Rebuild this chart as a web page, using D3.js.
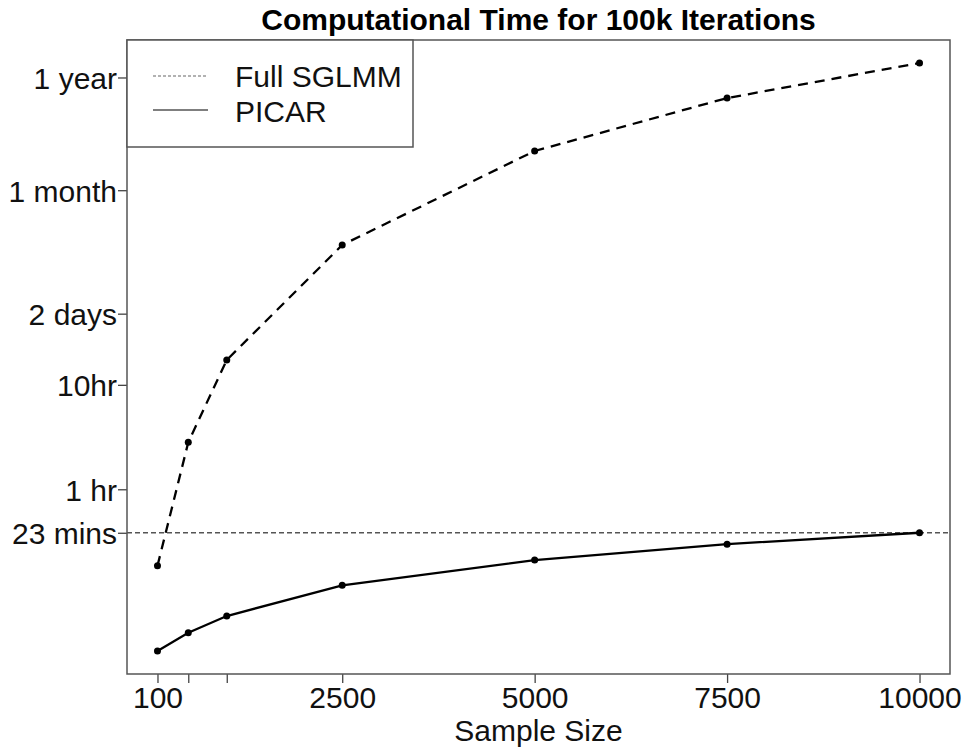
<!DOCTYPE html>
<html><head><meta charset="utf-8">
<script src="https://cdn.jsdelivr.net/npm/d3@7"></script>
<style>body{margin:0;background:#fff;} text{font-family:"Liberation Sans",Arial,Helvetica,sans-serif;}</style>
</head><body><svg id="c" width="965" height="749"></svg>
<script>
// Data (time in minutes)
const sampleSizes = [100, 500, 1000, 2500, 5000, 7500, 10000];
const fullSGLMM = [11.1, 169, 1037, 13090, 104000, 334000, 723000];
const picar = [1.70, 2.54, 3.67, 7.22, 12.6, 17.9, 23];
const xTickValues = [100, 500, 1000, 2500, 5000, 7500, 10000];
const xTickLabels = ["100", "", "", "2500", "5000", "7500", "10000"];
const yTickValues = [525600, 43800, 2880, 600, 60, 23];
const yTickLabels = ["1 year", "1 month", "2 days", "10hr", "1 hr", "23 mins"];
const refLineValue = 23;
const seriesNames = ["Full SGLMM", "PICAR"];
const title = "Computational Time for 100k Iterations";
const xLabel = "Sample Size";

const svg = d3.select("#c");
const L = 127, R = 950, T = 40, B = 674;
const x = d3.scaleLinear().domain([-296, 10396]).range([L, R]);
const y = d3.scaleLog().domain([Math.pow(10, 0.0096), Math.pow(10, 6.0795)]).range([B, T]);

// reference line
svg.append("line").attr("x1", L).attr("x2", R).attr("y1", y(refLineValue)).attr("y2", y(refLineValue))
  .attr("stroke", "#555").attr("stroke-width", 1.3).attr("stroke-dasharray", "5,3");

// axes
const xAxis = d3.axisBottom(x).tickValues(xTickValues).tickFormat((d, i) => xTickLabels[i]).tickSize(9).tickPadding(4);
const gx = svg.append("g").attr("transform", `translate(0,${B})`).call(xAxis);
gx.select(".domain").remove();
gx.selectAll(".tick line").attr("stroke", "#444").attr("stroke-width", 1.3);
gx.selectAll(".tick text").attr("font-size", 30).attr("fill", "#111").attr("dy", "0.71em");

const yAxis = d3.axisLeft(y).tickValues(yTickValues).tickFormat((d, i) => yTickLabels[i]).tickSize(9).tickPadding(1);
const gy = svg.append("g").attr("transform", `translate(${L},0)`).call(yAxis);
gy.select(".domain").remove();
gy.selectAll(".tick line").attr("stroke", "#444").attr("stroke-width", 1.3);
gy.selectAll(".tick text").attr("font-size", 30).attr("fill", "#111").attr("dy", "0.36em");

// box
svg.append("rect").attr("x", L).attr("y", T).attr("width", R - L).attr("height", B - T)
  .attr("fill", "none").attr("stroke", "#555").attr("stroke-width", 1.5);

// series
const line = d3.line().x((d, i) => x(sampleSizes[i])).y(d => y(d));
function drawSeries(vals, dash) {
  svg.append("path").datum(vals).attr("d", line).attr("fill", "none")
    .attr("stroke", "#000").attr("stroke-width", 2.3).attr("stroke-dasharray", dash);
  svg.append("g").selectAll("circle").data(vals).join("circle")
    .attr("cx", (d, i) => x(sampleSizes[i])).attr("cy", d => y(d)).attr("r", 3.5).attr("fill", "#000");
}
drawSeries(fullSGLMM, "10,7");
drawSeries(picar, null);

// legend
const lg = svg.append("g");
lg.append("rect").attr("x", L).attr("y", T).attr("width", 286).attr("height", 107)
  .attr("fill", "#fff").attr("stroke", "#555").attr("stroke-width", 1.5);
lg.append("line").attr("x1", 153).attr("x2", 208).attr("y1", 76).attr("y2", 76)
  .attr("stroke", "#666").attr("stroke-width", 1.2).attr("stroke-dasharray", "3,2");
lg.append("line").attr("x1", 153).attr("x2", 208).attr("y1", 110).attr("y2", 110)
  .attr("stroke", "#555").attr("stroke-width", 1.3);
lg.append("text").attr("x", 235).attr("y", 87).attr("font-size", 30).attr("fill", "#111").text(seriesNames[0]);
lg.append("text").attr("x", 235).attr("y", 122).attr("font-size", 30).attr("fill", "#111").text(seriesNames[1]);

// title and axis label
svg.append("text").attr("x", (L + R) / 2).attr("y", 30).attr("text-anchor", "middle")
  .attr("font-size", 30).attr("font-weight", "bold").attr("fill", "#000").text(title);
svg.append("text").attr("x", (L + R) / 2).attr("y", 741).attr("text-anchor", "middle")
  .attr("font-size", 30).attr("fill", "#111").text(xLabel);
</script></body></html>
